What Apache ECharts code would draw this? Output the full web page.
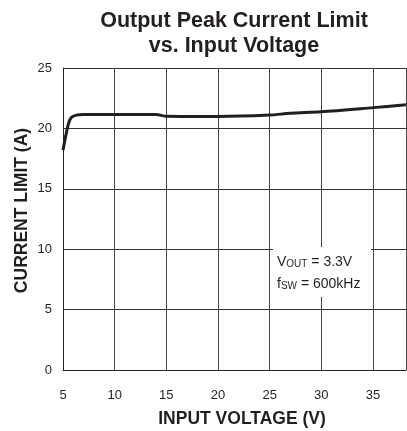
<!DOCTYPE html>
<html>
<head>
<meta charset="utf-8">
<script src="https://cdn.jsdelivr.net/npm/echarts@6/dist/echarts.min.js"></script>
<style>html,body{margin:0;padding:0;background:#fff;}#c{width:407px;height:431px;}</style>
</head>
<body>
<div id="c"></div>
<script>
// Data
var inputVoltage = [5, 5.5, 5.8, 6.3, 7, 10, 14, 15, 20, 25, 27, 30, 35, 38.2];
var currentLimit = [18.2, 20.3, 20.9, 21.1, 21.15, 21.15, 21.15, 21.0, 20.98, 21.1, 21.25, 21.38, 21.72, 21.95];
var xTicks = [5, 10, 15, 20, 25, 30, 35];
var yTicks = [0, 5, 10, 15, 20, 25];

var pts = inputVoltage.map(function (v, i) { return [v, currentLimit[i]]; });
var chart = echarts.init(document.getElementById('c'));
var FONT = '"Liberation Sans", Arial, sans-serif';
chart.setOption({
  animation: false,
  backgroundColor: '#fff',
  title: {
    text: 'Output Peak Current Limit\nvs. Input Voltage',
    left: 229, top: 4, textAlign: 'center',
    textStyle: { fontFamily: FONT, fontSize: 21.5, fontWeight: 'bold', color: '#231f20', lineHeight: 25 }
  },
  grid: { left: 63, top: 68, right: 1, bottom: 61, show: false, outerBoundsMode: 'none', containLabel: false },
  xAxis: {
    type: 'value', min: 5, max: 38.2, interval: 5,
    name: 'INPUT VOLTAGE (V)', nameLocation: 'middle', nameGap: 40, nameMoveOverlap: false,
    nameTextStyle: { fontFamily: FONT, fontSize: 17.5, fontWeight: 'bold', color: '#231f20', padding: [0, 0, 0, 15] },
    axisLine: { show: true, lineStyle: { color: '#231f20', width: 1 } },
    axisTick: { show: false },
    axisLabel: { fontFamily: FONT, fontSize: 13, color: '#231f20', margin: 19,
      showMaxLabel: false,
      formatter: function (v) { return xTicks.indexOf(v) >= 0 ? String(v) : ''; } },
    splitLine: { show: true, lineStyle: { color: '#444', width: 1 } }
  },
  yAxis: {
    type: 'value', min: 0, max: 25, interval: 5,
    name: 'CURRENT LIMIT (A)', nameLocation: 'middle', nameGap: 32, nameMoveOverlap: false,
    nameTextStyle: { fontFamily: FONT, fontSize: 17.5, fontWeight: 'bold', color: '#231f20', padding: [0, 0, 0, 17] },
    axisLine: { show: true, lineStyle: { color: '#231f20', width: 1 } },
    axisTick: { show: false },
    axisLabel: { fontFamily: FONT, fontSize: 13, color: '#231f20', margin: 11,
      formatter: function (v) { return yTicks.indexOf(v) >= 0 ? String(v) : ''; } },
    splitLine: { show: true, lineStyle: { color: '#333', width: 1 } }
  },
  series: [{
    type: 'line', data: pts, showSymbol: false, smooth: 0.3,
    lineStyle: { color: '#231f20', width: 3 }, z: 3
  }],
  graphic: [{
    type: 'rect', shape: { x: 273, y: 247, width: 98, height: 50 },
    style: { fill: '#fff' }, z: 10
  }, {
    type: 'text', x: 277, y: 262, z: 11,
    style: {
      text: 'V{s|OUT} = 3.3V', verticalAlign: 'middle',
      font: '14px "Liberation Sans", Arial, sans-serif', fill: '#231f20',
      rich: { s: { fontSize: 10, fontFamily: FONT, fill: '#231f20', padding: [5, 0, 0, 0] } }
    }
  }, {
    type: 'text', x: 277, y: 284, z: 11,
    style: {
      text: 'f{s|SW} = 600kHz', verticalAlign: 'middle',
      font: '14px "Liberation Sans", Arial, sans-serif', fill: '#231f20',
      rich: { s: { fontSize: 10, fontFamily: FONT, fill: '#231f20', padding: [5, 0, 0, 0] } }
    }
  }]
});
</script>
</body>
</html>
